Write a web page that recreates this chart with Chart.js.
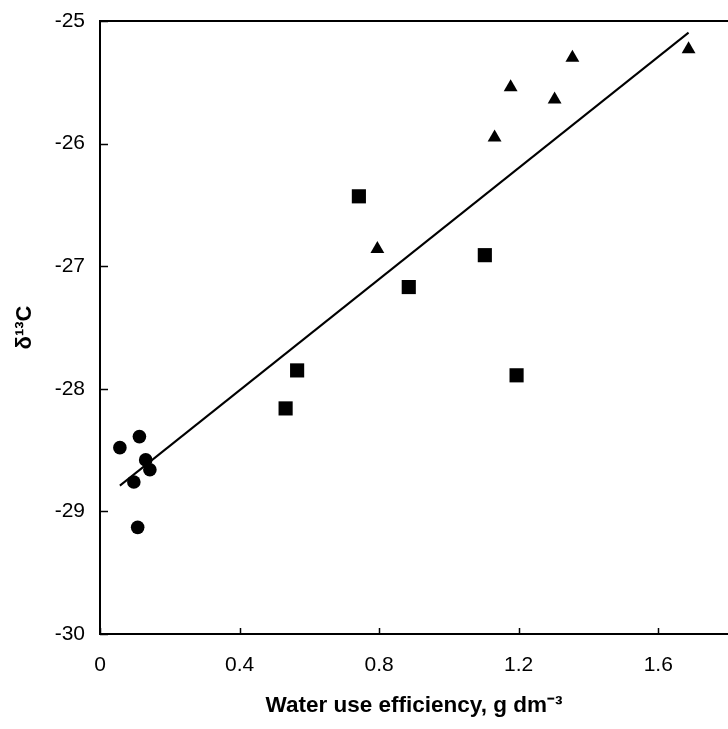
<!DOCTYPE html>
<html>
<head>
<meta charset="utf-8">
<script src="https://cdn.jsdelivr.net/npm/chart.js@4.4.1/dist/chart.umd.min.js"></script>
<style>
  html, body { margin: 0; padding: 0; background: #fff; }
  #wrap { width: 728px; height: 729px; }
</style>
</head>
<body>
<div id="wrap"><canvas id="chart" width="728" height="729"></canvas></div>
<script>
// Значения
const circleX = [0.057, 0.113, 0.131, 0.143, 0.097, 0.108];
const circleY = [-28.48, -28.39, -28.58, -28.66, -28.76, -29.13];

const squareX = [0.742, 1.103, 0.885, 0.565, 0.532, 1.194];
const squareY = [-26.43, -26.91, -27.17, -27.85, -28.16, -27.89];

const triangleX = [0.795, 1.131, 1.177, 1.303, 1.354, 1.687];
const triangleY = [-26.86, -25.95, -25.54, -25.64, -25.30, -25.23];

// Линия регрессии
const fitX = [0.057, 1.687];
const fitY = [-28.79, -25.095];

const xTicks = [0, 0.4, 0.8, 1.2, 1.6];
const yTicks = [-25, -26, -27, -28, -29, -30];

const FONT = 'Arial, "Liberation Sans", sans-serif';

function toPoints(xs, ys) {
    return xs.map((x, i) => ({ x: x, y: ys[i] }));
}

// Рамка сверху и внутренние засечки
const frameAndTicks = {
    id: 'frameAndTicks',
    afterDraw(chart) {
        const ctx = chart.ctx;
        const area = chart.chartArea;
        const xs = chart.scales.x;
        const ys = chart.scales.y;
        ctx.save();
        ctx.strokeStyle = '#000';
        ctx.lineWidth = 2;
        ctx.beginPath();
        ctx.moveTo(area.left, area.top);
        ctx.lineTo(area.right, area.top);
        ctx.stroke();
        ctx.lineWidth = 1.5;
        ctx.beginPath();
        xTicks.forEach(v => {
            const px = Math.round(xs.getPixelForValue(v)) + 0.5;
            ctx.moveTo(px, area.bottom);
            ctx.lineTo(px, area.bottom - 6);
        });
        yTicks.forEach(v => {
            const py = Math.round(ys.getPixelForValue(v)) + 0.5;
            ctx.moveTo(area.left, py);
            ctx.lineTo(area.left + 8, py);
        });
        ctx.stroke();
        ctx.restore();
    }
};

const ctx = document.getElementById('chart').getContext('2d');

new Chart(ctx, {
    type: 'scatter',
    data: {
        datasets: [
            {
                label: 'fit',
                type: 'line',
                data: toPoints(fitX, fitY),
                borderColor: '#000',
                borderWidth: 2,
                pointRadius: 0,
                fill: false
            },
            {
                label: 'circles',
                data: toPoints(circleX, circleY),
                pointStyle: 'circle',
                pointRadius: 6.8,
                backgroundColor: '#000',
                borderColor: '#000',
                borderWidth: 0
            },
            {
                label: 'squares',
                data: toPoints(squareX, squareY),
                pointStyle: 'rect',
                pointRadius: 10,
                backgroundColor: '#000',
                borderColor: '#000',
                borderWidth: 0
            },
            {
                label: 'triangles',
                data: toPoints(triangleX, triangleY),
                pointStyle: 'triangle',
                pointRadius: 8,
                backgroundColor: '#000',
                borderColor: '#000',
                borderWidth: 0
            }
        ]
    },
    options: {
        responsive: false,
        animation: false,
        layout: { autoPadding: false, padding: { top: 21, right: 0, left: 0, bottom: 0 } },
        plugins: {
            legend: { display: false },
            tooltip: { enabled: false }
        },
        scales: {
            x: {
                type: 'linear',
                min: 0,
                max: 1.8,
                afterBuildTicks(scale) {
                    scale.ticks = xTicks.map(v => ({ value: v }));
                },
                afterFit(scale) {
                    scale.height = 95;
                    scale.paddingLeft = 0;
                    scale.paddingRight = 0;
                },
                grid: { display: false, drawTicks: false },
                border: { color: '#000', width: 2 },
                ticks: {
                    padding: 19,
                    color: '#000',
                    font: { family: FONT, size: 21 },
                    callback: v => String(v)
                },
                title: {
                    display: true,
                    text: 'Water use efficiency, g dm⁻³',
                    color: '#000',
                    font: { family: FONT, size: 22.5, weight: 'bold' },
                    padding: { top: 0, bottom: 10 }
                }
            },
            y: {
                type: 'linear',
                min: -30,
                max: -25,
                afterBuildTicks(scale) {
                    scale.ticks = yTicks.map(v => ({ value: v }));
                },
                afterFit(scale) {
                    scale.width = 100;
                    scale.paddingTop = 0;
                    scale.paddingBottom = 0;
                },
                grid: { display: false, drawTicks: false },
                border: { color: '#000', width: 2 },
                ticks: {
                    padding: 15,
                    color: '#000',
                    font: { family: FONT, size: 21 },
                    callback: v => String(v)
                },
                title: {
                    display: true,
                    text: 'δ¹³C',
                    color: '#000',
                    font: { family: FONT, size: 22, weight: 'bold' },
                    padding: { top: 12, bottom: 0 }
                }
            }
        }
    },
    plugins: [frameAndTicks]
});
</script>
</body>
</html>
